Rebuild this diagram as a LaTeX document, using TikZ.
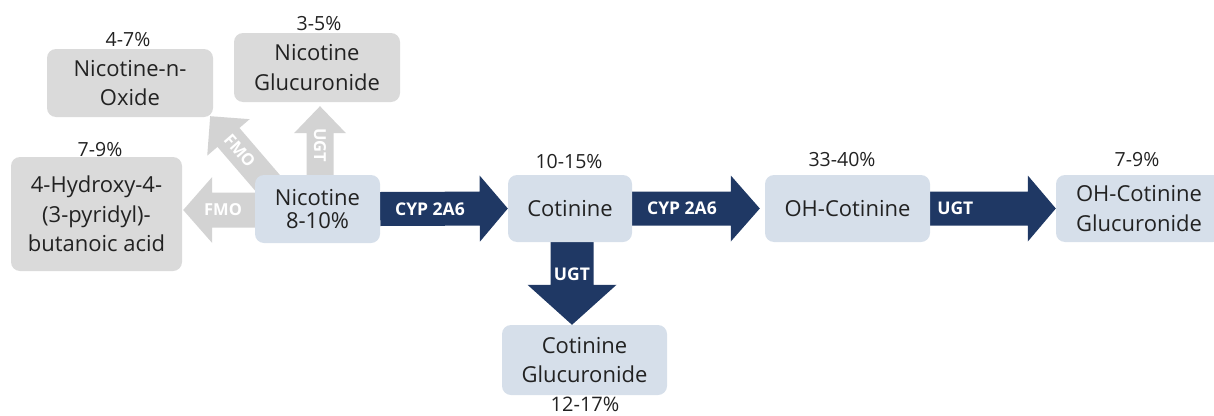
\documentclass[tikz,border=0pt]{standalone}
\usepackage{fontspec}
\setmainfont{Open Sans}
\usetikzlibrary{calc,backgrounds}
\definecolor{navy}{HTML}{1F3864}
\definecolor{boxblue}{HTML}{D6DFEA}
\definecolor{boxgrey}{HTML}{DADADA}
\definecolor{arrgrey}{HTML}{D3D3D3}
\definecolor{txt}{HTML}{222222}
% #1 fill, #2 start coord, #3 tip coord, #4 shaft half width, #5 head half width, #6 head length
\newcommand\blockarrow[6]{%
  \coordinate (ba-b) at ($(#3)!#6!(#2)$);
  \fill[#1] ($(#2)!#4!90:(#3)$) -- ($(ba-b)!#4!-90:(#2)$) -- ($(ba-b)!#5!-90:(#2)$)
    -- (#3) -- ($(ba-b)!#5!90:(#2)$) -- ($(ba-b)!#4!90:(#2)$) -- ($(#2)!#4!-90:(#3)$) -- cycle;
}
\begin{document}
\begin{tikzpicture}[x=1pt,y=-1pt,
  box/.style={rounded corners=9pt, inner sep=0pt, align=center, text=txt,
    font=\fontsize{22}{29.5}\selectfont},
  bluebox/.style={box, fill=boxblue},
  greybox/.style={box, fill=boxgrey},
  pct/.style={text=txt, inner sep=0pt, font=\fontsize{19.5}{22}\selectfont},
  alabel/.style={text=white, inner sep=0pt, font=\bfseries\fontsize{17.5}{19}\selectfont},
  glabel/.style={text=white, inner sep=0pt, font=\bfseries\fontsize{16.5}{18}\selectfont}]
\useasboundingbox (0,0) rectangle (1214,415);
% boxes
\node[greybox, minimum width=166pt, minimum height=68pt] (nox) at (130,83) {Nicotine-n-\\Oxide};
\node[greybox, minimum width=166pt, minimum height=69pt] (ngl) at (317,67.5) {Nicotine\\Glucuronide};
\node[greybox, minimum width=171pt, minimum height=114pt] (hba) at (96.5,214) {4-Hydroxy-4-\\(3-pyridyl)-\\butanoic acid};
\node[bluebox, minimum width=125pt, minimum height=68pt] (nic) at (317.5,209) {Nicotine\\[-6pt]8-10\%};
\node[bluebox, minimum width=124pt, minimum height=67pt] (cot) at (570,208.5) {Cotinine};
\node[bluebox, minimum width=165pt, minimum height=67pt] (ohc) at (847.5,208.5) {OH-Cotinine};
\node[bluebox, minimum width=166pt, minimum height=67pt] (ohg) at (1139,208.5) {OH-Cotinine\\Glucuronide};
\node[bluebox, minimum width=165pt, minimum height=70pt] (cgl) at (584.5,360) {Cotinine\\Glucuronide};
% percentages
\node[pct] (pnox) at (128,40) {4-7\%};
\node[pct] (pngl) at (319,24) {3-5\%};
\node[pct] (phba) at (100,150) {7-9\%};
\node[pct] (pcot) at (569,162) {10-15\%};
\node[pct] (pohc) at (842,160) {33-40\%};
\node[pct] (pohg) at (1137,160) {7-9\%};
\node[pct, font=\fontsize{20}{22}\selectfont] (pcgl) at (585,404) {12-17\%};
% arrows
\begin{pgfonlayer}{background}
  \coordinate (a1s) at (nic.east);
  \coordinate (a1e) at (cot.west);
  \blockarrow{navy}{a1s}{a1e}{17pt}{33pt}{28pt}
  \node[alabel] (l1) at ($(a1s)!0.39!(a1e)$) {CYP 2A6};
  \coordinate (a2s) at (cot.east);
  \coordinate (a2e) at ($(ohc.west)+(-5,0)$);
  \blockarrow{navy}{a2s}{a2e}{17pt}{33pt}{29pt}
  \node[alabel] (l2) at ($(a2s)!0.39!(a2e)$) {CYP 2A6};
  \coordinate (a3s) at (ohc.east);
  \coordinate (a3e) at (ohg.west);
  \blockarrow{navy}{a3s}{a3e}{17pt}{33pt}{28pt}
  \node[alabel] (l3) at ($(a3s)!0.2!(a3e)$) {UGT};
  \coordinate (a4s) at ($(cot.south)+(2,0)$);
  \coordinate (a4e) at (a4s |- cgl.north);
  \blockarrow{navy}{a4s}{a4e}{21.5pt}{44.5pt}{40pt}
  \node[alabel] (l4) at ($(a4s)!0.39!(a4e)$) {UGT};
  % grey arrows
  \coordinate (g1s) at ($(nic.west)+(20,1)$);
  \coordinate (g1e) at ($(nic.west -| hba.east)+(1,1)$);
  \blockarrow{arrgrey}{g1s}{g1e}{17.5pt}{33pt}{29pt}
  \node[glabel] (m1) at ($(g1s)!0.565!(g1e)$) {FMO};
  \coordinate (g2e) at ($(ngl.south)+(3,4)$);
  \coordinate (g2s) at ($(g2e |- nic.north)+(0,10)$);
  \blockarrow{arrgrey}{g2s}{g2e}{13.5pt}{26pt}{27pt}
  \node[glabel, rotate=-90] (m2) at ($(g2s)!0.5!(g2e)$) {UGT};
  \coordinate (g3e) at ($(nox.south east)+(-3,-1)$);
  \coordinate (g3s) at ($(nic.north west)+(17,13)$);
  \blockarrow{arrgrey}{g3s}{g3e}{14.5pt}{28pt}{28pt}
  \node[glabel, rotate=-49] (m3) at ($(g3s)!0.52!(g3e)$) {FMO};
\end{pgfonlayer}
\end{tikzpicture}
\end{document}
